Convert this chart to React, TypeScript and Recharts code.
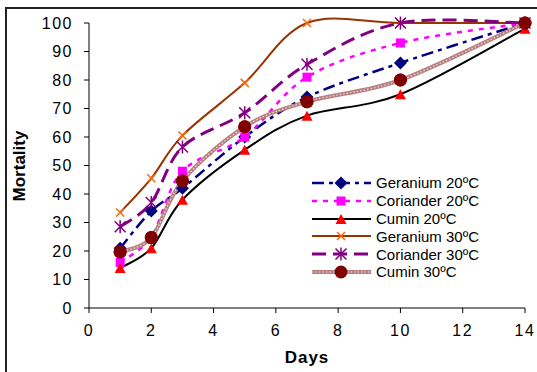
import React from 'react'
import {LineChart, Line, XAxis, YAxis, Legend} from 'recharts'

// 観測日
const days = [1, 2, 3, 5, 7, 10, 14]
// 死亡率 (%)
const geranium20 = [21, 34, 42, 60, 74, 86, 100]
const coriander20 = [16, 25, 48, 60, 81, 93, 100]
const cumin20 = [14, 21, 38, 55.5, 67.5, 75, 98]
const geranium30 = [33.5, 45.5, 60.5, 79, 100, 100, 100]
const coriander30 = [28.5, 37, 56.5, 68.5, 85.5, 100, 100]
const cumin30 = [19.7, 24.7, 44.6, 63.6, 72.4, 80, 100]

const xTicks = [0, 2, 4, 6, 8, 10, 12, 14]
const yTicks = [0, 10, 20, 30, 40, 50, 60, 70, 80, 90, 100]

const chartData = days.map((d, i) => ({
  day: d,
  geranium20: geranium20[i],
  coriander20: coriander20[i],
  cumin20: cumin20[i],
  geranium30: geranium30[i],
  coriander30: coriander30[i],
  cumin30: cumin30[i],
}))

const FONT = '"Liberation Sans", Arial, sans-serif'

// Excel風のスムージング (Catmull-Rom)
function smoothCurve(context: any) {
  let pts: [number, number][] = []
  return {
    areaStart() {},
    areaEnd() {},
    lineStart() {
      pts = []
    },
    lineEnd() {
      const n = pts.length
      if (!n) return
      context.moveTo(pts[0][0], pts[0][1])
      for (let i = 0; i < n - 1; i++) {
        const p0 = pts[Math.max(i - 1, 0)]
        const p1 = pts[i]
        const p2 = pts[i + 1]
        const p3 = pts[Math.min(i + 2, n - 1)]
        context.bezierCurveTo(
          p1[0] + (p2[0] - p0[0]) / 6,
          p1[1] + (p2[1] - p0[1]) / 6,
          p2[0] - (p3[0] - p1[0]) / 6,
          p2[1] - (p3[1] - p1[1]) / 6,
          p2[0],
          p2[1]
        )
      }
    },
    point(x: number, y: number) {
      pts.push([+x, +y])
    },
  }
}

type MarkerKind = 'diamond' | 'square' | 'triangle' | 'cross' | 'star' | 'circle'

function Marker({kind, cx, cy, color}: {kind: MarkerKind; cx: number; cy: number; color: string}) {
  switch (kind) {
    case 'diamond':
      return <path d={`M${cx},${cy - 6.5}L${cx + 6.5},${cy}L${cx},${cy + 6.5}L${cx - 6.5},${cy}Z`} fill={color} />
    case 'square':
      return <rect x={cx - 4.5} y={cy - 4.5} width={9} height={9} fill={color} />
    case 'triangle':
      return <path d={`M${cx},${cy - 5}L${cx + 5.5},${cy + 5}L${cx - 5.5},${cy + 5}Z`} fill={color} />
    case 'cross':
      return (
        <path d={`M${cx - 4},${cy - 4}L${cx + 4},${cy + 4}M${cx + 4},${cy - 4}L${cx - 4},${cy + 4}`} stroke={color} strokeWidth={1.5} />
      )
    case 'star':
      return (
        <path
          d={`M${cx - 5.5},${cy - 5.5}L${cx + 5.5},${cy + 5.5}M${cx + 5.5},${cy - 5.5}L${cx - 5.5},${cy + 5.5}M${cx},${cy - 6.5}L${cx},${cy + 6.5}`}
          stroke={color}
          strokeWidth={1.5}
        />
      )
    default:
      return <circle cx={cx} cy={cy} r={6.5} fill={color} />
  }
}

const SERIES = [
  {key: 'geranium20', name: 'Geranium 20ºC', color: '#000080', width: 2.5, dash: '12 5 4 5', marker: 'diamond', markerColor: '#000080'},
  {key: 'coriander20', name: 'Coriander 20ºC', color: '#FF00FF', width: 2.5, dash: '5 6', marker: 'square', markerColor: '#FF00FF'},
  {key: 'cumin20', name: 'Cumin 20ºC', color: '#000000', width: 2, dash: undefined, marker: 'triangle', markerColor: '#FF0000'},
  {key: 'geranium30', name: 'Geranium 30ºC', color: '#993300', width: 2, dash: undefined, marker: 'cross', markerColor: '#FF6600'},
  {key: 'coriander30', name: 'Coriander 30ºC', color: '#800080', width: 3, dash: '14 7', marker: 'star', markerColor: '#800080'},
  {key: 'cumin30', name: 'Cumin 30ºC', color: '#B88080', width: 4, dash: undefined, marker: 'circle', markerColor: '#800000'},
] as const

const renderLegend = () => (
  <div style={{fontFamily: FONT, fontSize: 15, color: '#000'}}>
    {SERIES.map(s => (
      <div key={s.key} style={{display: 'flex', alignItems: 'center', height: 17.8}}>
        <svg width={62} height={18} style={{marginRight: 4}}>
          <line x1={2} y1={9} x2={61} y2={9} stroke={s.color} strokeWidth={s.width} strokeDasharray={s.dash} />
          {s.key === 'cumin30' && <line x1={2} y1={9} x2={61} y2={9} stroke="#F0DADA" strokeWidth={1.2} strokeDasharray="1.5 2" />}
          <Marker kind={s.marker as MarkerKind} cx={31} cy={9} color={s.markerColor} />
        </svg>
        <span style={{whiteSpace: 'nowrap', letterSpacing: 0}}>{s.name}</span>
      </div>
    ))}
  </div>
)

export default function App() {
  return (
    <div style={{position: 'absolute', left: 0, top: 0, width: 537, height: 372, background: '#fff', overflow: 'hidden'}}>
      {/* 外枠 */}
      <div
        style={{
          position: 'absolute',
          left: 5,
          top: 7,
          width: 600,
          height: 400,
          borderTop: '2px solid #222',
          borderLeft: '2px solid #222',
        }}
      />
      <LineChart
        width={537}
        height={372}
        data={chartData}
        margin={{top: 23, right: 12, left: 0, bottom: 0}}
        style={{fontFamily: FONT}}
      >
        <XAxis
          dataKey="day"
          type="number"
          domain={[0, 14]}
          ticks={xTicks}
          height={64}
          stroke="#000"
          tickSize={5}
          tickMargin={12}
          tick={{fontSize: 16, fill: '#000', letterSpacing: 1.5}}
          label={{value: 'Days', position: 'insideBottom', offset: 9, fontSize: 17, fontWeight: 'bold', fill: '#000', letterSpacing: 1}}
        />
        <YAxis
          type="number"
          domain={[0, 100]}
          ticks={yTicks}
          width={89}
          stroke="#000"
          tickSize={5}
          tickMargin={11}
          tick={{fontSize: 16, fill: '#000', letterSpacing: 1.5}}
          label={{
            content: () => (
              <text transform="translate(25,166) rotate(-90)" textAnchor="middle" fontSize={17} fontWeight="bold" fill="#000" fontFamily={FONT}>
                Mortality
              </text>
            ),
          }}
        />
        <Legend
          content={renderLegend}
          layout="vertical"
          align="center"
          verticalAlign="middle"
          wrapperStyle={{position: 'absolute', left: 310, top: 174, width: 200}}
        />
        {SERIES.map(s => (
          <Line
            key={s.key}
            isAnimationActive={false}
            type={smoothCurve as any}
            dataKey={s.key}
            name={s.name}
            stroke={s.color}
            strokeWidth={s.width}
            strokeDasharray={s.dash}
            dot={({cx, cy, index}: any) => (
              <g key={index}>
                <Marker kind={s.marker as MarkerKind} cx={cx} cy={cy} color={s.markerColor} />
              </g>
            )}
            activeDot={false}
          />
        ))}
        {/* クミン30℃の模様線 */}
        <Line
          isAnimationActive={false}
          type={smoothCurve as any}
          dataKey="cumin30"
          stroke="#F0DADA"
          strokeWidth={1.2}
          strokeDasharray="1.5 2"
          dot={({cx, cy, index}: any) => (
            <g key={index}>
              <Marker kind="circle" cx={cx} cy={cy} color="#800000" />
            </g>
          )}
          activeDot={false}
          legendType="none"
        />
      </LineChart>
    </div>
  )
}
